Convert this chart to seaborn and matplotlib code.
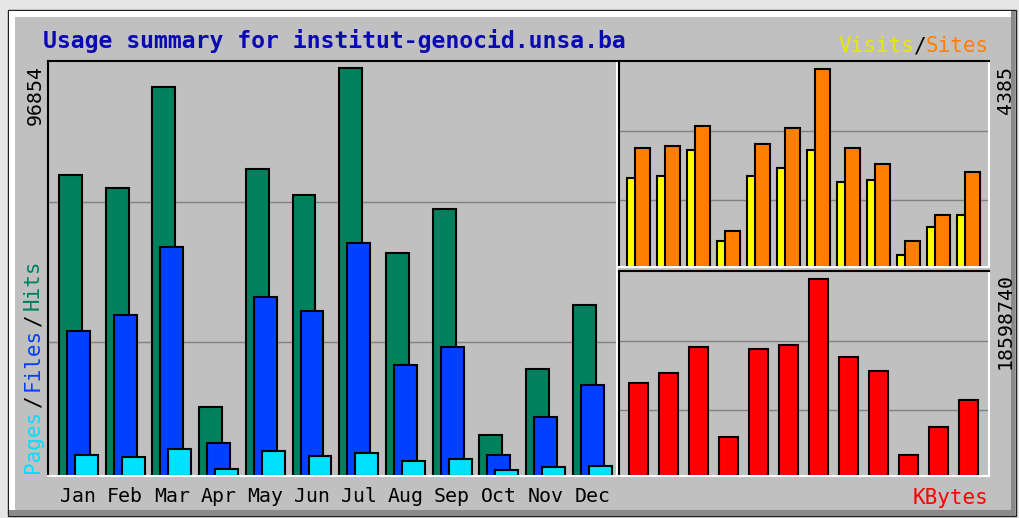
import numpy as np
import pandas as pd
import matplotlib
matplotlib.use("Agg")
import matplotlib.pyplot as plt
import seaborn as sns
from matplotlib.patches import Rectangle

# monthly values
months = ['Jan', 'Feb', 'Mar', 'Apr', 'May', 'Jun', 'Jul', 'Aug', 'Sep', 'Oct', 'Nov', 'Dec']
hits = [71460, 68370, 92350, 16380, 72880, 66710, 96854, 52940, 63390, 9730, 25400, 40600]
files = [34420, 38220, 54360, 7900, 42490, 39170, 55310, 26350, 30620, 4990, 14010, 21600]
pages = [4985, 4440, 6410, 1590, 5935, 4750, 5460, 3560, 4040, 1350, 2065, 2375]
visits = [1973, 2011, 2591, 574, 2011, 2196, 2591, 1883, 1921, 261, 894, 1155]
sites = [2629, 2665, 3121, 797, 2719, 3076, 4385, 2629, 2272, 574, 1155, 2093]
kbytes = [8780000, 9724000, 12180000, 3682000, 11990000, 12370000, 18598740,
          11235000, 9913000, 1983000, 4598000, 7175000]

df = pd.DataFrame({'month': months, 'hits': hits, 'files': files, 'pages': pages,
                   'visits': visits, 'sites': sites, 'kbytes': kbytes})
df['pos'] = np.arange(len(df))

W, H = 1019, 518
GRAY = '#c0c0c0'
sns.set_theme(style='white')
plt.rcParams['font.family'] = ['DejaVu Sans Mono', 'DejaVu Sans']

fig = plt.figure(figsize=(W / 100, H / 100), dpi=100, facecolor='#e6e6e6')


def box(x0, y0, x1, y1):
    # pixel box (top-left origin) -> figure fraction rect
    return [x0 / W, 1 - y1 / H, (x1 - x0) / W, (y1 - y0) / H]


def rect(x0, y0, x1, y1, **kw):
    b = box(x0, y0, x1, y1)
    fig.add_artist(Rectangle((b[0], b[1]), b[2], b[3], transform=fig.transFigure,
                             zorder=-10, **kw))


# outer 3d frame (kept below the axes)
rect(8, 10, 1016, 516, facecolor=GRAY, edgecolor='#202020', lw=1)
rect(9, 11, 1015, 17, facecolor='white', lw=0)
rect(9, 11, 15, 510, facecolor='white', lw=0)
rect(9, 510, 1015, 516, facecolor='#8a8a8a', lw=0)
rect(1011, 11, 1015, 516, facecolor='#8a8a8a', lw=0)


def panel(b):
    ax = fig.add_axes(b)
    ax.set_facecolor(GRAY)
    for s in ['top', 'left']:
        ax.spines[s].set_color('black')
        ax.spines[s].set_linewidth(1.5)
    for s in ['bottom', 'right']:
        ax.spines[s].set_color('white')
        ax.spines[s].set_linewidth(1.5)
    return ax


def bars(ax, x, y, width, color):
    sns.barplot(x=x, y=y, native_scale=True, orient='x', width=width, color=color,
                saturation=1, edgecolor='black', linewidth=1.5, errorbar=None, ax=ax)


def finish(ax, top, xlim):
    ax.set_xlim(*xlim)
    ax.set_ylim(0, top)
    ax.set_yticks([top * 0.97 / 3, top * 0.97 * 0.68])
    ax.set_yticklabels([])
    ax.grid(axis='y', color='#808080', lw=1)
    ax.grid(axis='x', visible=False)
    ax.set_axisbelow(True)
    ax.tick_params(length=0)
    ax.set(xlabel='', ylabel='')


fs = 14.35
fs2 = 15

# hits / files / pages
axL = panel(box(48, 61, 617, 476))
bars(axL, df['pos'], df['hits'], 0.49, '#00805c')
bars(axL, df['pos'] + 0.171, df['files'], 0.49, '#0040ff')
bars(axL, df['pos'] + 0.343, df['pages'], 0.49, '#00e0ff')
finish(axL, max(hits) * 415 / 408, (-0.482, -0.482 + 569 / 46.7))
axL.set_xticks(df['pos'] + 0.171, months, fontsize=fs, color='black')
axL.tick_params(axis='x', pad=8)

# visits / sites
axV = panel(box(619, 61, 989, 267))
bars(axV, df['pos'], df['visits'], 0.5, '#ffff00')
bars(axV, df['pos'] + 0.277, df['sites'], 0.5, '#ff8000')
finish(axV, max(sites) * 206 / 198.3, (-0.517, -0.517 + 370 / 30))
axV.set_xticks([])

# kbytes
axK = panel(box(619, 271, 989, 476))
bars(axK, df['pos'] + 0.14, df['kbytes'], 0.64, '#ff0000')
finish(axK, max(kbytes) * 205 / 197, (-0.517, -0.517 + 370 / 30))
axK.set_xticks([])


def fx(x):
    return x / W


def fy(y):
    return 1 - y / H


# title and legends
fig.text(fx(43), fy(48), 'Usage summary for institut-genocid.unsa.ba', color='#0a0ab4',
         fontsize=16.7, fontweight='bold', ha='left', va='baseline')

adv = 0.602 * fs2 * 100 / 72
fig.text(fx(989), fy(52), 'Sites', color='#ff8000', fontsize=fs2, ha='right', va='baseline')
fig.text(fx(989 - 5 * adv), fy(52), '/', color='black', fontsize=fs2, ha='right', va='baseline')
fig.text(fx(989 - 6 * adv), fy(52), 'Visits', color='#e8e800', fontsize=fs2, ha='right', va='baseline')
fig.text(fx(988), fy(504), 'KBytes', color='#ff0000', fontsize=fs2, ha='right', va='baseline')

# rotated left legend, reading upward
y = 473
for txt, col in [('Pages', '#00e0ff'), ('/', 'black'), ('Files', '#0040ff'),
                 ('/', 'black'), ('Hits', '#00805c')]:
    if txt == '/':
        h = 1.5 * adv
        fig.text(fx(33), fy(y - h / 2), txt, color=col, fontsize=fs2, rotation=90,
                 ha='center', va='center')
    else:
        h = len(txt) * adv
        fig.text(fx(33), fy(y), txt, color=col, fontsize=fs2, rotation=90,
                 ha='center', va='bottom')
    y -= h

fig.text(fx(35), fy(65), f'{max(hits)}', color='black', fontsize=fs, rotation=90, ha='center', va='top')
fig.text(fx(1005), fy(66), f'{max(sites)}', color='black', fontsize=fs, rotation=90, ha='center', va='top')
fig.text(fx(1005), fy(273), f'{max(kbytes)}', color='black', fontsize=fs, rotation=90, ha='center', va='top')

fig.savefig('out.png', dpi=100, facecolor=fig.get_facecolor())
